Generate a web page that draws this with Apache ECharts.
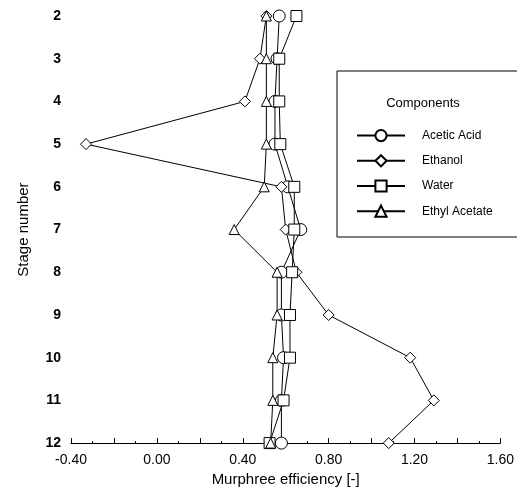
<!DOCTYPE html>
<html>
<head>
    <meta charset="UTF-8">
    <script src="https://cdn.jsdelivr.net/npm/echarts@6/dist/echarts.min.js"></script>
    <style>
        html, body { margin: 0; padding: 0; background: #fff; }
    </style>
</head>
<body>
    <div id="chart" style="width: 517px;height:492px"></div>
    <script>
    // stage numbers (y) and Murphree efficiencies (x)
    var stages = [2, 3, 4, 5, 6, 7, 8, 9, 10, 11, 12];
    var aceticAcid = [0.57, 0.56, 0.55, 0.55, 0.61, 0.67, 0.58, 0.58, 0.59, 0.58, 0.58];
    var ethanol = [0.51, 0.48, 0.41, -0.33, 0.58, 0.60, 0.65, 0.80, 1.18, 1.29, 1.08];
    var water = [0.65, 0.57, 0.57, 0.575, 0.64, 0.64, 0.63, 0.62, 0.62, 0.59, 0.525];
    var ethylAcetate = [0.51, 0.51, 0.51, 0.51, 0.50, 0.36, 0.56, 0.56, 0.54, 0.54, 0.53];
    var names = ['Acetic Acid', 'Ethanol', 'Water', 'Ethyl Acetate'];
    var symbols = ['circle', 'diamond', 'rect', 'triangle'];
    var sizes = [12, 11, 11, 10];
    var xMin = -0.4, xMax = 1.6;

    var font = 'Liberation Sans, Arial, sans-serif';

    function pairs(xs) {
        return xs.map(function(v, i) { return [v, stages[i]]; });
    }

    var series = [aceticAcid, ethanol, water, ethylAcetate].map(function(xs, i) {
        return {
            name: names[i],
            type: 'line',
            data: pairs(xs),
            symbol: symbols[i],
            symbolSize: sizes[i],
            showAllSymbol: true,
            lineStyle: { color: '#000', width: 1 },
            itemStyle: { color: '#fff', borderColor: '#000', borderWidth: 1 },
            emphasis: { disabled: true },
            z: 3 + i
        };
    });

    var boxAndTitle = [{
        type: 'rect',
        shape: { x: 337, y: 71, width: 190, height: 166 },
        style: { fill: 'none', stroke: '#000', lineWidth: 1 },
        z: 1
    }, {
        type: 'text',
        x: 423,
        y: 103,
        style: {
            text: 'Components',
            fontFamily: font,
            fontSize: 13,
            fill: '#000',
            align: 'center',
            verticalAlign: 'middle'
        }
    }];

    var option = {
        animation: false,
        grid: { left: 71, right: 14, top: 16, bottom: 45 },
        xAxis: {
            type: 'value',
            min: xMin,
            max: xMax,
            splitNumber: 10,
            name: 'Murphree efficiency [-]',
            nameLocation: 'middle',
            nameGap: 27,
            nameTextStyle: { fontFamily: font, fontSize: 15, color: '#000' },
            axisLine: { onZero: false, lineStyle: { color: '#000', width: 1 } },
            axisTick: { inside: true, length: 5, lineStyle: { color: '#000' } },
            minorTick: { show: true, splitNumber: 2, length: 2, lineStyle: { color: '#000' } },
            splitLine: { show: false },
            axisLabel: {
                fontFamily: font, fontSize: 14, color: '#000', margin: 10,
                showMinLabel: true, showMaxLabel: true, hideOverlap: false,
                formatter: function(v) {
                    var k = Math.round(v * 10);
                    return k % 4 === 0 ? v.toFixed(2) : '';
                }
            }
        },
        yAxis: {
            type: 'value',
            inverse: true,
            min: 2,
            max: 12,
            splitNumber: 10,
            name: 'Stage number',
            nameLocation: 'middle',
            nameGap: 40,
            nameTextStyle: { fontFamily: font, fontSize: 15, color: '#000' },
            // line + ticks are drawn below from the axis scale
            axisLine: { show: false, onZero: false },
            axisTick: { show: false },
            splitLine: { show: false },
            axisLabel: {
                fontFamily: font, fontSize: 14, fontWeight: 'bold', color: '#000', margin: 10,
                showMinLabel: true, showMaxLabel: true
            }
        },
        legend: {
            data: names,
            orient: 'vertical',
            left: 351,
            top: 124,
            itemWidth: 48,
            itemHeight: 14,
            itemGap: 12,
            selectedMode: false,
            textStyle: { fontFamily: font, fontSize: 12, color: '#000', padding: [0, 0, 0, 12] }
        },
        graphic: boxAndTitle,
        series: series
    };

    var myChart = echarts.init(document.getElementById('chart'));
    myChart.setOption(option);

    // left axis line and inside ticks, positioned through the chart's scales
    var top = myChart.convertToPixel({ gridIndex: 0 }, [xMin, stages[0]]);
    var bottom = myChart.convertToPixel({ gridIndex: 0 }, [xMin, stages[stages.length - 1]]);
    var axisX = Math.round(top[0]);
    var axisParts = [{
        type: 'rect',
        shape: { x: axisX, y: top[1], width: 1, height: bottom[1] - top[1] + 1 },
        style: { fill: '#000' },
        z: 100
    }];
    stages.forEach(function(s) {
        var p = myChart.convertToPixel({ gridIndex: 0 }, [xMin, s]);
        axisParts.push({
            type: 'rect',
            shape: { x: axisX, y: Math.round(p[1]), width: 6, height: 1 },
            style: { fill: '#000' },
            z: 100
        });
    });
    myChart.setOption({ graphic: boxAndTitle.concat(axisParts) });
    </script>
</body>
</html>
